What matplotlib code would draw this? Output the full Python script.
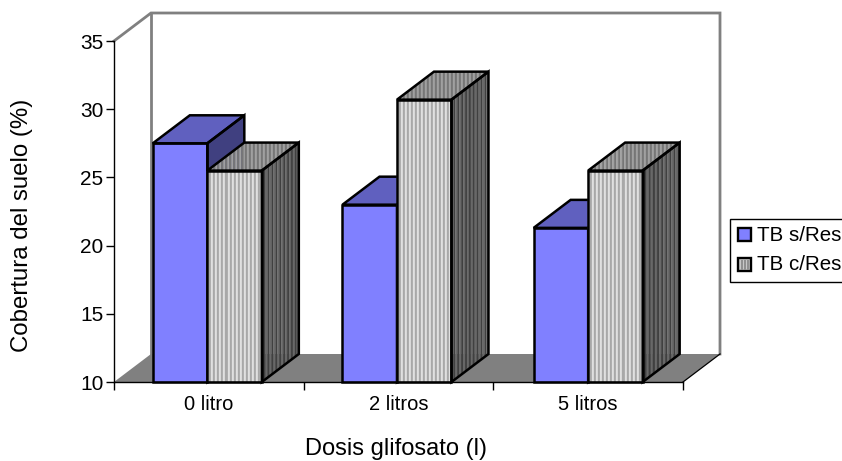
import numpy as np
import matplotlib
matplotlib.use("Agg")
import matplotlib.pyplot as plt
from matplotlib.patches import Polygon, Rectangle

categories = ["0 litro", "2 litros", "5 litros"]
series_a = [27.5, 23.0, 21.3]
series_b = [25.5, 30.7, 25.5]
series_names = ["TB s/Res", "TB c/Res"]
y_ticks = [10, 15, 20, 25, 30, 35]

W, H = 842, 461
plt.rcParams["font.family"] = ["Liberation Sans", "DejaVu Sans"]
fig = plt.figure(figsize=(W / 100, H / 100), dpi=100)
L, R, T, B = 114, 683, 41, 382
ax = fig.add_axes([L / W, 1 - B / H, (R - L) / W, (B - T) / H])
ax.set_xlim(-0.5, 2.5)
ax.set_ylim(10, 35)
ax.patch.set_alpha(0)

px = 3 / (R - L)          # category units per pixel
py = 25 / (B - T)         # value units per pixel
dx, dy = 37 * px, 28 * py # depth
bw = 54.5 * px
OUT = 1.8

def poly(pts, fc="none", ec="none", lw=0, z=2):
    p = Polygon(pts, closed=True, facecolor=fc, edgecolor=ec, linewidth=lw,
                zorder=z, clip_on=False, joinstyle="miter")
    ax.add_patch(p)

# walls and floor
poly([(-0.5, 10), (-0.5 + dx, 10 + dy), (2.5 + dx, 10 + dy), (2.5, 10)], fc="#808080", z=1)
GR = "#808080"
ax.plot([-0.5, -0.5 + dx, 2.5 + dx, 2.5 + dx], [35, 35 + dy, 35 + dy, 10 + dy], color=GR, lw=2.0,
        clip_on=False, zorder=1, solid_joinstyle="miter")
ax.plot([-0.5 + dx, -0.5 + dx], [35 + dy, 10 + dy], color=GR, lw=2.0, clip_on=False, zorder=1)
ax.plot([2.5, 2.5 + dx], [10, 10 + dy], color="black", lw=0.9, clip_on=False, zorder=1)

def stripes(x0, x1, top0, top1, bot0, bot1, c1, c2, z, step=2.0):
    """Vertical stripes on a parallelogram from x0 to x1 (pixels of width step)."""
    n = max(int(round((x1 - x0) / (step * px))), 1)
    xs = np.linspace(x0, x1, n + 1)
    for i in range(n):
        f0, f1 = (xs[i] - x0) / (x1 - x0), (xs[i + 1] - x0) / (x1 - x0)
        t0, t1 = top0 + (top1 - top0) * f0, top0 + (top1 - top0) * f1
        b0, b1 = bot0 + (bot1 - bot0) * f0, bot0 + (bot1 - bot0) * f1
        c = c1 if i % 2 == 0 else c2
        poly([(xs[i], b0), (xs[i], t0), (xs[i + 1], t1), (xs[i + 1], b1)], fc=c, ec=c, lw=0.2, z=z)

def bar3d(x0, v, kind, z):
    x1 = x0 + bw
    front = [(x0, 10), (x0, v), (x1, v), (x1, 10)]
    top = [(x0, v), (x0 + dx, v + dy), (x1 + dx, v + dy), (x1, v)]
    side = [(x1, 10), (x1 + dx, 10 + dy), (x1 + dx, v + dy), (x1, v)]
    if kind == 0:
        poly(front, fc="#8080ff", z=z)
        poly(top, fc="#6060bf", z=z)
        poly(side, fc="#404080", z=z)
    else:
        stripes(x0, x1, v, v, 10, 10, "#e0e0e0", "#a8a8a8", z)
        xs = np.arange(x0, x1 + dx, 2 * px)
        for i, xa in enumerate(xs[:-1]):
            xb = xs[i + 1]
            c = "#a0a0a0" if i % 2 == 0 else "#767676"
            ya = np.clip((xa - x0) / dx, 0, 1) * dy + v
            yb = np.clip((xb - x0) / dx, 0, 1) * dy + v
            la = v + np.clip((xa - x1) / dx, 0, 1) * dy
            lb = v + np.clip((xb - x1) / dx, 0, 1) * dy
            poly([(xa, la), (xa, ya), (xb, yb), (xb, lb)], fc=c, ec=c, lw=0.2, z=z)
        stripes(x1, x1 + dx, v, v + dy, 10, 10 + dy, "#686868", "#404040", z)
    for pts in (front, top, side):
        poly(pts, ec="black", lw=OUT, z=z + 0.5)

for i in range(len(categories)):
    c = i + (-0.008 if i < 2 else 0)
    bar3d(c - bw, series_a[i], 0, 3 + i * 2)
    bar3d(c, series_b[i], 1, 4 + i * 2)

# axes
for s in ("top", "right"):
    ax.spines[s].set_visible(False)
for s in ("left", "bottom"):
    ax.spines[s].set_linewidth(1.0)
    ax.spines[s].set_zorder(20)
ax.set_yticks(y_ticks)
ax.set_xticks(np.arange(-0.5, 3, 1))
ax.set_xticklabels([])
ax.set_xticks(range(3), categories, minor=True)
ax.tick_params(axis="x", which="major", length=6, width=1.0, direction="out")
ax.tick_params(axis="x", which="minor", length=0, pad=9.5, labelsize=14.5)
ax.tick_params(axis="y", length=5.5, width=1.0, direction="out", labelsize=15, pad=2)
fig.text(22 / W, 1 - 225 / H, "Cobertura del suelo (%)", rotation=90, fontsize=17.3,
         ha="center", va="center")
fig.text(396 / W, 1 - 449 / H, "Dosis glifosato (l)", fontsize=17, ha="center", va="center")

# legend
def fr(x, y, w, h, **kw):
    fig.add_artist(Rectangle((x / W, 1 - (y + h) / H), w / W, h / H, transform=fig.transFigure, **kw))

fr(730, 219, 120, 63, fc="white", ec="black", lw=1.0)
fr(738, 228, 13, 13, fc="#8080ff", ec="black", lw=1.7)
fr(738, 258, 13, 13, fc="#c8c8c8", ec="black", lw=1.7)
for k in range(3):
    fr(741 + 3 * k, 259.5, 1.5, 10, fc="#909090", ec="none")
for name, y in zip(series_names, (235, 265)):
    fig.text(757 / W, 1 - y / H, name, fontsize=14.8, ha="left", va="center")

fig.savefig("out.png", dpi=100)
